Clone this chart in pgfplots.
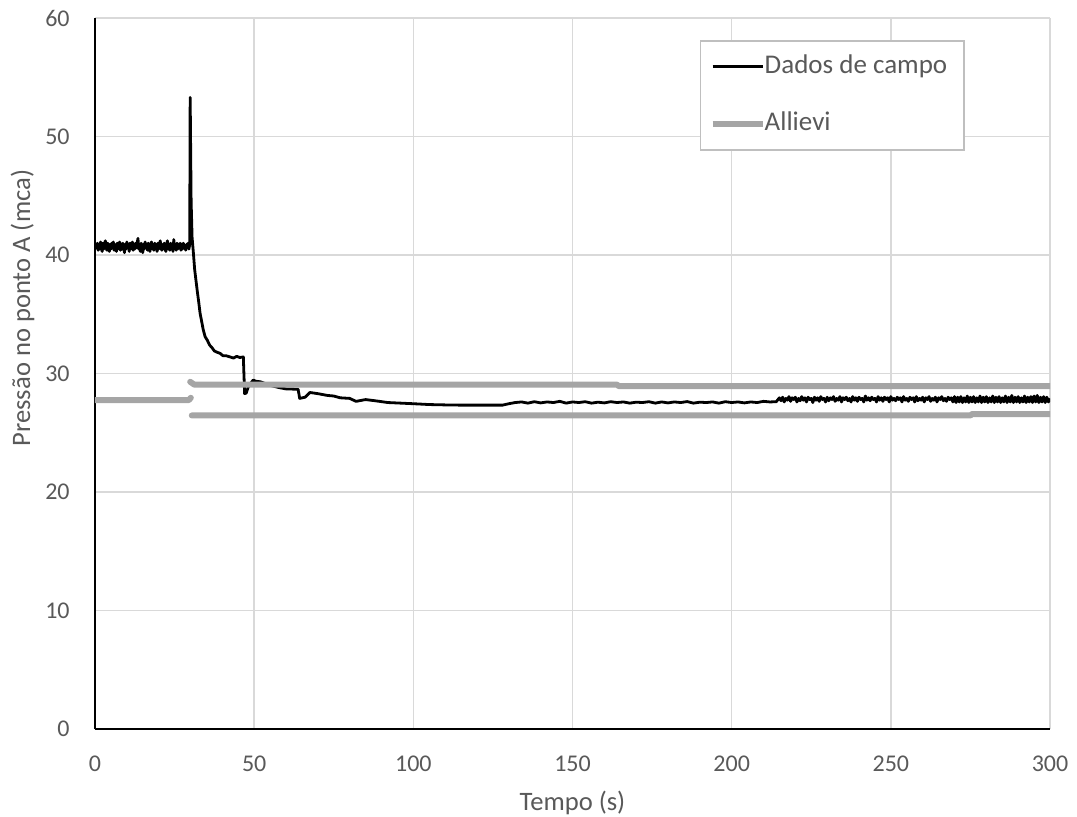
\documentclass[border=0pt]{standalone}
\usepackage{pgfplots}
\pgfplotsset{compat=1.18}
\usepackage{fontspec}
\setmainfont{Carlito}
\definecolor{labelgray}{HTML}{595959}
\definecolor{gridgray}{HTML}{D9D9D9}
\definecolor{allgray}{HTML}{A5A5A5}
\definecolor{legendgray}{HTML}{BFBFBF}
\begin{document}
\begin{tikzpicture}
\path[use as bounding box] (-47.5pt,-43.5pt) rectangle (491pt,364.5pt);
\begin{axis}[
  scale only axis, width=477.5pt, height=355.5pt,
  xmin=0, xmax=300, ymin=0, ymax=60,
  xtick={0,50,...,300}, ytick={0,10,...,60},
  axis x line*=bottom, axis y line*=left,
  axis line style={black, line width=1pt, -},
  grid=major, major grid style={color=gridgray, line width=0.75pt},
  major tick length=0pt, tick style={draw=none},
  /pgf/number format/assume math mode=true,
  xticklabel style={font=\fontsize{12}{14}\selectfont, text=labelgray, inner sep=0pt, anchor=base, yshift=-21.3pt},
  yticklabel style={font=\fontsize{12}{14}\selectfont, text=labelgray, inner sep=0pt, anchor=east, xshift=-12.5pt},
  xlabel={Tempo (s)}, ylabel={Pressão no ponto A (mca)},
  xlabel style={font=\fontsize{13.3}{16}\selectfont, text=labelgray, at={(axis description cs:0.5,-0.115)}, anchor=base, inner sep=0pt},
  ylabel style={font=\fontsize{13.3}{16}\selectfont, text=labelgray, at={(axis description cs:-0.0759,0.592)}, anchor=center, inner sep=0pt},
  legend style={at={(axis description cs:0.6335,0.969)}, anchor=north west, draw=legendgray, line width=0.75pt,
    font=\fontsize{13.5}{16}\selectfont, text=labelgray, inner xsep=4.5pt, inner ysep=6.6pt, row sep=15.7pt, column sep=-0.5pt,
    nodes={inner sep=0pt, text height=10pt, text depth=2.8pt}},
  legend cell align=left,
  legend image code/.code={\draw[#1, line cap=butt] (0pt,0pt) -- (25pt,0pt);},
]
\addplot[black, line width=1.4pt, line join=round] coordinates {
(0,40.5)(0.25,40.9)(0.5,40.6)(0.75,41.0)(1,40.4)(1.25,40.9)(1.5,40.5)(1.75,41.1)(2,40.6)(2.25,40.3)
(2.5,41.0)(2.75,40.5)(3,40.9)(3.25,41.2)(3.5,40.6)(3.75,40.4)(4,41.0)(4.25,40.7)(4.5,40.3)(4.75,40.9)
(5,40.5)(5.25,41.0)(5.5,40.6)(5.75,41.1)(6,40.4)(6.25,40.9)(6.5,40.6)(6.75,40.3)(7,41.0)(7.25,40.5)
(7.5,40.9)(7.75,41.1)(8,40.4)(8.25,40.8)(8.5,40.5)(8.75,41.0)(9,40.6)(9.25,40.2)(9.5,40.9)(9.75,40.5)
(10,41.1)(10.25,40.6)(10.5,40.9)(10.75,40.3)(11,41.0)(11.25,40.5)(11.5,40.8)(11.75,41.1)(12,40.4)(12.25,40.9)
(12.5,40.5)(12.75,41.0)(13,40.6)(13.25,41.0)(13.5,41.4)(13.75,40.5)(14,40.9)(14.25,40.3)(14.5,41.0)(14.75,40.6)
(15,40.2)(15.25,40.9)(15.5,40.5)(15.75,41.1)(16,40.6)(16.25,40.9)(16.5,40.4)(16.75,41.0)(17,40.6)(17.25,40.3)
(17.5,40.9)(17.75,41.1)(18,40.5)(18.25,40.9)(18.5,40.4)(18.75,41.0)(19,40.6)(19.25,40.8)(19.5,40.3)(19.75,41.0)
(20,40.5)(20.25,40.9)(20.5,41.2)(20.75,40.6)(21,40.4)(21.25,40.9)(21.5,40.5)(21.75,41.0)(22,40.6)(22.25,40.3)
(22.5,40.9)(22.75,41.2)(23,40.5)(23.25,40.9)(23.5,40.4)(23.75,41.0)(24,40.6)(24.25,40.9)(24.5,40.3)(24.75,41.3)
(25,40.6)(25.25,40.9)(25.5,40.4)(25.75,41.0)(26,40.5)(26.25,40.9)(26.5,40.6)(26.75,41.0)(27,40.4)(27.25,40.9)
(27.5,40.5)(27.75,41.0)(28,40.6)(28.25,40.8)(28.5,40.4)(28.75,40.9)(29,40.6)(29.25,41.0)(29.5,40.5)(29.75,40.9)
(29.9,53.3)(30.2,44.5)(30.5,41.5)(30.9,40.2)(31.3,38.8)(31.7,37.9)(32.2,36.8)(32.6,36.0)
(33.0,35.1)(33.5,34.4)(34.0,33.7)(34.6,33.1)(35.3,32.8)(36.0,32.4)(36.7,32.2)(37.5,31.9)(38.3,31.8)
(39.3,31.7)(40.2,31.5)(41.2,31.5)(42.4,31.4)(43.5,31.3)(44.5,31.45)(45.5,31.35)(46.6,31.4)
(47.0,28.3)(47.5,28.35)(48.2,28.9)(49.0,29.2)(49.7,29.45)(50.5,29.35)(52,29.3)(55,29.0)(58,28.8)
(60,28.7)(63.8,28.67)(64.3,27.9)(66,28.0)(67.5,28.4)(70,28.3)(73,28.15)(75,28.1)(77,27.95)(80,27.9)
(82,27.65)(85,27.8)(88,27.7)(92,27.55)(96,27.5)(100,27.45)(105,27.38)(110,27.35)(115,27.33)(120,27.33)
(128,27.33)(130,27.45)
(132,27.55)(134,27.6)(136,27.5)(138,27.62)(140,27.52)(142,27.6)(144,27.55)(146,27.65)(148,27.5)(150,27.6)
(152,27.55)(154,27.62)(156,27.5)(158,27.58)(160,27.52)(162,27.62)(164,27.55)(166,27.6)(168,27.5)(170,27.58)
(172,27.55)(174,27.62)(176,27.5)(178,27.6)(180,27.52)(182,27.6)(184,27.55)(186,27.63)(188,27.5)(190,27.58)
(192,27.55)(194,27.6)(196,27.5)(198,27.62)(200,27.55)(202,27.6)(204,27.52)(206,27.6)(208,27.55)(210,27.65)
(212,27.6)(214,27.62)
(215,27.95)(215.5,27.7)(216,28.0)(216.5,27.6)(217,27.9)(217.5,27.75)(218,28.05)(218.5,27.65)(219,27.95)(219.5,27.8)
(220,28.0)(220.5,27.6)(221,27.9)(221.5,27.7)(222,28.05)(222.5,27.75)(223,27.95)(223.5,27.6)(224,28.0)(224.5,27.8)
(225,27.9)(225.5,27.55)(226,28.0)(226.5,27.75)(227,27.95)(227.5,27.65)(228,28.05)(228.5,27.8)(229,27.9)(229.5,27.6)
(230,28.0)(230.5,27.7)(231,27.95)(231.5,27.8)(232,28.05)(232.5,27.65)(233,27.9)(233.5,27.75)(234,28.05)(234.5,27.6)
(235,27.95)(235.5,27.8)(236,28.0)(236.5,27.7)(237,27.9)(237.5,27.6)(238,28.05)(238.5,27.75)(239,27.95)(239.5,27.65)
(240,28.0)(240.5,27.8)(241,27.9)(241.5,27.6)(242,28.1)(242.5,27.75)(243,27.95)(243.5,27.7)(244,28.0)(244.5,27.8)
(245,27.9)(245.5,27.6)(246,28.05)(246.5,27.75)(247,27.95)(247.5,27.65)(248,28.0)(248.5,27.8)(249,27.95)(249.5,27.6)
(250,28.05)(250.5,27.75)(251,27.9)(251.5,27.7)(252,28.0)(252.5,27.8)(253,27.95)(253.5,27.6)(254,28.05)(254.5,27.75)
(255,27.9)(255.5,27.65)(256,28.0)(256.5,27.8)(257,27.95)(257.5,27.6)(258,28.05)(258.5,27.7)(259,27.9)(259.5,27.75)
(260,28.0)(260.5,27.6)(261,27.95)(261.5,27.8)(262,28.05)(262.5,27.65)(263,27.9)(263.5,27.75)(264,28.0)(264.5,27.6)
(265,27.95)(265.5,27.8)(266,28.05)(266.5,27.7)(267,27.9)(267.5,27.65)(268,28.0)(268.5,27.8)(269,27.95)(269.5,27.6)
(270,28.05)(270.5,27.55)(271,28.0)(271.5,27.6)(272,28.05)(272.5,27.55)(273,27.95)(273.5,27.6)(274,28.1)(274.5,27.55)
(275,28.0)(275.5,27.6)(276,28.05)(276.5,27.55)(277,27.95)(277.5,27.6)(278,28.1)(278.5,27.55)(279,28.0)(279.5,27.6)
(280,28.05)(280.5,27.55)(281,27.95)(281.5,27.6)(282,28.1)(282.5,27.55)(283,28.0)(283.5,27.6)(284,28.05)(284.5,27.55)
(285,27.95)(285.5,27.6)(286,28.1)(286.5,27.55)(287,28.0)(287.5,27.6)(288,28.15)(288.5,27.55)(289,28.0)(289.5,27.6)
(290,28.05)(290.5,27.55)(291,27.95)(291.5,27.6)(292,28.1)(292.5,27.55)(293,28.0)(293.5,27.6)(294,28.05)(294.5,27.55)
(295,28.1)(295.5,27.6)(296,28.15)(296.5,27.55)(297,28.0)(297.5,27.6)(298,28.05)(298.5,27.55)(299,28.0)(299.5,27.6)
(300,27.9)
};
\addlegendentry{Dados de campo\rule{4pt}{0pt}}
\addplot[allgray, line width=3pt, line cap=round, line join=round, unbounded coords=jump] coordinates {
(0,27.76)(29.5,27.76)(30.1,27.95)
(nan,nan)
(29.9,29.3)(31.2,29.06)(164,29.06)(164.5,28.94)(300,28.94)
(nan,nan)
(30.4,26.46)(275,26.46)(275.5,26.58)(300,26.58)
};
\addlegendentry{Allievi}
\end{axis}
\end{tikzpicture}
\end{document}
